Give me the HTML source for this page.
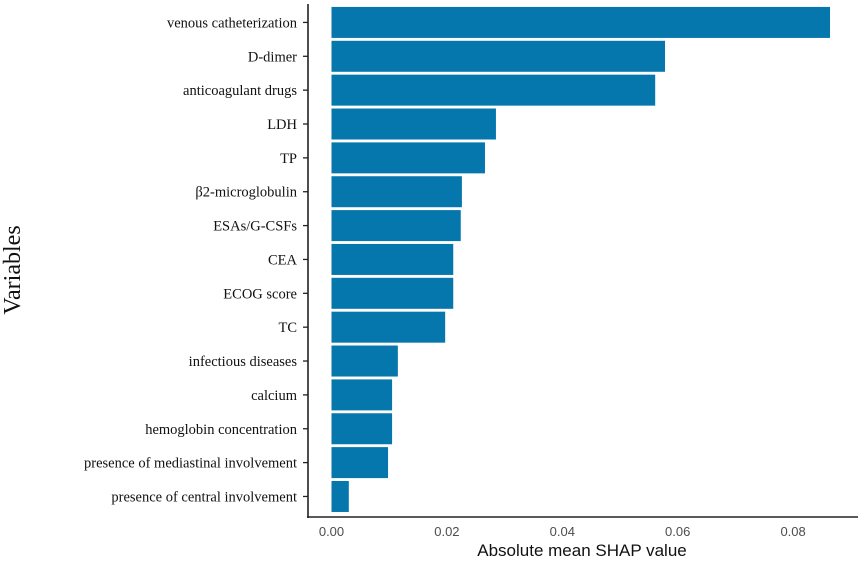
<!DOCTYPE html>
<html><head><meta charset="utf-8"><style>
body{margin:0;background:#fff;width:858px;height:558px;overflow:hidden}
</style></head><body>
<svg id="chart" width="858" height="558" xmlns="http://www.w3.org/2000/svg"></svg>
<script>
const categories=["venous catheterization","D-dimer","anticoagulant drugs","LDH","TP","β2-microglobulin","ESAs/G-CSFs","CEA","ECOG score","TC","infectious diseases","calcium","hemoglobin concentration","presence of mediastinal involvement","presence of central involvement"];
const values=[0.0864,0.0578,0.0561,0.0285,0.0266,0.0226,0.0224,0.0211,0.0211,0.0197,0.0115,0.0105,0.0105,0.0098,0.0030];
const ticks=[0,0.02,0.04,0.06,0.08];
const tickLabels=["0.00","0.02","0.04","0.06","0.08"];
const svg=document.getElementById('chart');
const NS='http://www.w3.org/2000/svg';
const x0=331.5, pxPerUnit=5770;
const xs=v=>x0+v*pxPerUnit;
const rowTop=5.5, step=33.86, barH=31;
const yc=i=>rowTop+step*i+step/2;
function mk(t,a){const e=document.createElementNS(NS,t);for(const k in a)e.setAttribute(k,a[k]);svg.appendChild(e);return e;}
categories.forEach((c,i)=>{
  const r=mk('rect',{x:xs(0),y:yc(i)-barH/2,width:xs(values[i])-xs(0),height:barH,fill:'#0677ad'});
  
  
  const t=mk('text',{x:297,y:yc(i)+5,'text-anchor':'end','font-family':'Liberation Serif, serif','font-size':'14.5',fill:'#111'});
  t.textContent=c;
  
  
  const tk=mk('line',{x1:303,x2:308,y1:yc(i),y2:yc(i),stroke:'#222','stroke-width':1.3});
  
  
});
ticks.forEach((v,i)=>{
  const t=mk('text',{x:xs(v),y:536,'text-anchor':'middle','font-family':'Liberation Sans, sans-serif','font-size':'13',fill:'#4d4d4d'});
  t.textContent=tickLabels[i];
  
  
});
const ya=mk('line',{x1:308,x2:308,y1:4,y2:518,stroke:'#222','stroke-width':1.6});


const xa=mk('line',{x1:307,x2:858,y1:517,y2:517,stroke:'#222','stroke-width':1.6});


const xt=mk('text',{x:582,y:556,'text-anchor':'middle','font-family':'Liberation Sans, sans-serif','font-size':'17',fill:'#111'});
xt.textContent='Absolute mean SHAP value';


const yt=mk('text',{x:20,y:270,'text-anchor':'middle','font-family':'Liberation Serif, serif','font-size':'24',fill:'#111',transform:'rotate(-90 20 270)'});
yt.textContent='Variables';


</script>
</body></html>
